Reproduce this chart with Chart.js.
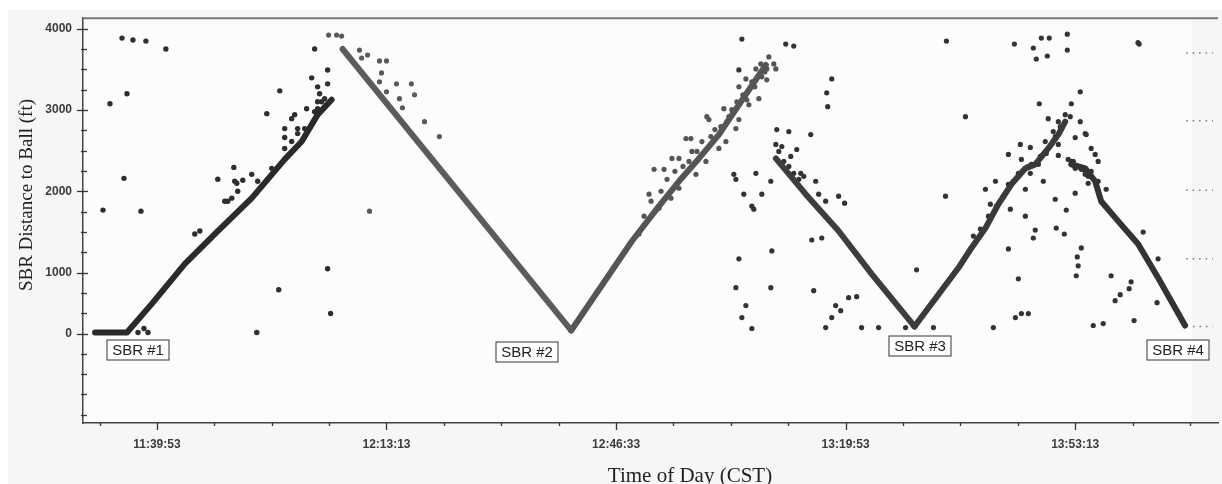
<!DOCTYPE html>
<html><head><meta charset="utf-8">
<script src="https://cdn.jsdelivr.net/npm/chart.js@4.4.1/dist/chart.umd.min.js"></script>
<style>html,body{margin:0;padding:0;background:#fff;overflow:hidden}</style>
</head><body>
<canvas id="c" width="1222" height="484"></canvas>
<script>
// ---------- axis / tick data ----------
const xTickLabels = ['11:39:53','12:13:13','12:46:33','13:19:53','13:53:13'];
const xMinorStep = 500;            // seconds between minor ticks
const yTickValues = [4000,3000,2000,1000,250];
const yTickLabels = ['4000','3000','2000','1000','0'];
const yMinorStep = 250;
const X_MIN = 41349, X_MAX = 51237, Y_MIN = -851, Y_MAX = 4131;
const xTitle = 'Time of Day (CST)';
const yTitle = 'SBR Distance to Ball (ft)';

// ---------- series: [seconds of day, distance ft] ----------
const track1 = [[41454,263],[41732,263],[41950,618],[42236,1108],[42523,1512],[42819,1916],[43106,2393],[43254,2613],[43393,2944],[43515,3127]];
const track2 = [[43610,3752],[45602,288]];
const track3 = [[45602,288],[46132,1389],[46367,1818],[46541,2124],[46715,2405],[46889,2699],[47063,3066],[47298,3556]];
const track4 = [[47385,2405],[47645,1965],[47932,1512],[48219,985],[48593,337]];
const track5 = [[48593,337],[48976,1059],[49089,1304],[49211,1548],[49324,1842],[49437,2087],[49559,2283],[49645,2332],[49758,2528],[49846,2699],[49906,2858]];
const track6 = [[49959,2332],[50080,2283],[50167,2124],[50219,1879],[50367,1634],[50541,1353],[50715,936],[50950,349]];

const dotsA = [[41689,3886],[41784,3862],[41897,3849],[42071,3752],[41732,3201],[41584,3078],[41706,2160],[41523,1769],[41854,1756],[41828,263],[41880,312],[41915,263],[42863,263],[43054,789],[43480,1047],[43506,496],[42950,2956],[43063,3237],[43367,3752],[43480,3494],[43341,3397],[43393,3286],[43410,3201],[43480,3323],[43106,2772],[43167,2895],[43193,2944],[43297,3017],[42663,2295],[42523,2148],[42671,2124],[42741,2136],[42697,2001],[42610,1879],[43106,2662],[43219,2772],[43393,3017],[43428,3103],
  [42323,1475],[42367,1512],[42584,1879],[42645,1916],[42689,2099],[42819,2209],[42871,2124],[42993,2283],[43106,2528],[43167,2613],[43219,2711],[43280,2772],[43367,2980],[43393,3103],[43454,3140]];
const dotsB = [[43489,3923],[43558,3923],[43602,3911],[43758,3739],[43828,3678],[43776,3641],[43932,3605],[43993,3605],[43950,3458],[43932,3348],[44080,3323],[44210,3323],[44237,3189],[43993,3225],[44106,3140],[44132,3029],[44324,2858],[44454,2674],[43845,1756]];
const dotsC = [[46280,1965],[46324,2271],[46411,2271],[46480,2405],[46541,2405],[46602,2650],[46645,2650],[46654,2491],[46784,2919],[46802,2883],[46932,3017],[46976,2919],[47063,2883],[47132,3127],[47150,3066],[47237,3140],[47063,3286],[47124,3384],[47176,3348],[47211,3507],[47306,3507],[47254,3568],[47324,3654],[47367,3568],[47385,3507],[47306,3372],[46193,1475],[46367,1793],[46471,1916],[46541,2038],[46689,2209],[46776,2368],[46889,2528],[46950,2613],[47037,2772],
  [46237,1695],[46298,1879],[46385,2001],[46437,2148],[46506,2246],[46576,2307],[46628,2368],[46698,2491],[46741,2613],[46819,2674],[46854,2760],[46906,2797],[46958,2858],[47002,3005],[47045,3103],[47098,3189],[47150,3250],[47202,3286],[47263,3409],[47289,3470]];
const dotsD = [[47089,3874],[47063,3494],[47019,2209],[47037,2148],[47106,1965],[47211,2222],[47263,1965],[47193,1781],[47176,1818],[47341,2124],[47063,1169],[47037,814],[47350,1267],[47341,814],[47124,594],[47089,447],[47176,312],[47471,3813],[47541,3788],[48871,3849],[47872,3384],[47828,3213],[47837,3042],[49037,2919],[47393,2760],[47498,2736],[47689,2699],[47385,2577],[47567,2515],[47732,2124],[47602,2222],[47628,2185],[47758,1965],[47819,1879],[47932,1940],[47984,1854],[48863,1940],[47698,1401],[47785,1426],[47715,777],[48019,692],[48089,704],[47906,594],[47950,532],[47872,447],[47819,324],[48132,324],[48280,324],[48515,324],[48758,324],[48611,1034],[49280,324],[49472,447],[49524,496],[49585,496],[50150,349],[50237,373],[50506,410],
  [47411,2491],[47454,2368],[47498,2307],[47541,2222],[47585,2148],[47437,2552],[47515,2430]];
const dotsE = [[49463,3813],[49698,3886],[49767,3886],[49924,3935],[49628,3764],[49654,3629],[49750,3666],[49924,3739],[50550,3813],[50540,3830],[50037,3225],[49680,3078],[49959,3078],[49758,2895],[49846,2858],[49906,2944],[49950,2919],[49872,2772],[50037,2858],[50089,2699],[49993,2662],[49846,2577],[49819,2674],[49741,2466],[49846,2442],[49515,2577],[49602,2540],[49411,2454],[49524,2393],[49611,2332],[49672,2332],[49602,2222],[49715,2124],[49559,2026],[49298,2124],[49211,2026],[49411,2087],[49428,1781],[49254,1842],[49559,1695],[49819,1903],[49915,1769],[49993,1977],[49828,1548],[49898,1475],[49645,1524],[49628,1426],[49411,1291],[50046,1304],[50011,1193],[50019,1083],[50002,961],[49498,924],[50306,961],[50480,887],[50463,802],[50385,728],[50341,655],[50585,1499],[50715,1169],[50706,630],[50080,2711],[50132,2528],[50167,2454],[50193,2368],[50132,2246],[50080,2209],[50193,2124],[50106,2099],[50263,2026],[49959,2368],[49993,2283],[50046,2271],[50080,2246],
  [49106,1450],[49167,1536],[49237,1695],[49306,1818],[49367,1940],[49454,2124],[49498,2222],[49585,2307],[49689,2430],[49732,2613],[49802,2736],[49863,2797],
  [49976,2368],[50019,2307],[50063,2271],[50106,2185],[49932,2393]];

// dotted markers at right edge
const markerValues = [3703,2870,2013,1169,337];
const markerStarts = [50959,50959,50959,50959,51019];
const markerEnd = 51193;

// SBR labels
const sbrLabels = ['SBR #1','SBR #2','SBR #3','SBR #4'];
const sbrTimes = [41828,45219,48645,50889];
const sbrValues = [43,18,98,43];

// ---------- build ----------
const hms = s => { const [h,m,x] = s.split(':').map(Number); return h*3600+m*60+x; };
const xMajor = xTickLabels.map(hms);
const xTickValues = [];
{ let v = xMajor[0]; while (v - xMinorStep >= X_MIN) v -= xMinorStep; for (; v <= X_MAX; v += xMinorStep) xTickValues.push(v); }
const yTicksAll = [];
for (let v = yTickValues[0]; v >= Y_MIN; v -= yMinorStep) yTicksAll.push(v);

const toXY = arr => arr.map(([x,y]) => ({x,y}));
const lineDs = (arr,color,w) => ({data:toXY(arr), showLine:true, borderColor:color, borderWidth:w, pointRadius:0, borderCapStyle:'round', borderJoinStyle:'round', tension:0});
const dotDs = (arr,color,r) => ({data:toXY(arr), showLine:false, pointRadius:r, backgroundColor:color, borderWidth:0});
const markerData = [];
markerValues.forEach((v,i) => { markerData.push({x:markerStarts[i],y:v},{x:markerEnd,y:v},{x:markerEnd+1,y:null}); });

const tickFont = {family:"'Liberation Sans', Arial, sans-serif", size:12, weight:'bold'};

const decor = {
  id:'decor',
  beforeDraw(chart){
    const {ctx, chartArea:a} = chart;
    ctx.save();
    ctx.fillStyle = '#f6f6f6'; ctx.fillRect(0,0,chart.width,chart.height);
    ctx.fillStyle = '#ffffff'; ctx.fillRect(0,0,chart.width,10); ctx.fillRect(0,0,8,chart.height);
    ctx.fillStyle = '#fcfcfc'; ctx.fillRect(a.left,a.top,1192-a.left,a.bottom-a.top);
    ctx.restore();
  },
  afterDraw(chart){
    const {ctx, chartArea:a, scales:{x,y}} = chart;
    ctx.save();
    ctx.strokeStyle = '#777'; ctx.lineWidth = 2;
    ctx.beginPath(); ctx.moveTo(a.left, a.top); ctx.lineTo(a.right, a.top); ctx.stroke();
    ctx.strokeStyle = '#333'; ctx.lineWidth = 1.3;
    x.ticks.forEach(t => {
      const px = Math.round(x.getPixelForValue(t.value)) + 0.5;
      const major = xMajor.some(m => Math.abs(m - t.value) < 1);
      ctx.beginPath(); ctx.moveTo(px, a.bottom); ctx.lineTo(px, a.bottom + (major ? 7 : 3)); ctx.stroke();
    });
    y.ticks.forEach(t => {
      const py = Math.round(y.getPixelForValue(t.value)) + 0.5;
      const major = yTickValues.includes(t.value);
      ctx.beginPath(); ctx.moveTo(a.left - (major ? 6 : 2), py); ctx.lineTo(a.left + (major ? 5 : 4), py); ctx.stroke();
    });
    ctx.font = "15px 'Liberation Sans', Arial, sans-serif";
    ctx.textAlign = 'center'; ctx.textBaseline = 'middle';
    sbrLabels.forEach((s,i) => {
      const cx = Math.round(x.getPixelForValue(sbrTimes[i])), cy = Math.round(y.getPixelForValue(sbrValues[i]));
      const w = 63, h = 21;
      ctx.fillStyle = '#fff'; ctx.fillRect(cx - w/2, cy - h/2, w, h);
      ctx.strokeStyle = '#333'; ctx.lineWidth = 1; ctx.strokeRect(cx - w/2 + 0.5, cy - h/2 + 0.5, w - 1, h - 1);
      ctx.fillStyle = '#222'; ctx.fillText(s, cx, cy + 1);
    });
    ctx.fillStyle = '#222';
    ctx.font = "21px 'Liberation Serif', 'Times New Roman', serif";
    ctx.textAlign = 'center'; ctx.textBaseline = 'alphabetic';
    ctx.fillText(xTitle, 690, 482);
    ctx.save();
    ctx.translate(32, 195); ctx.rotate(-Math.PI/2);
    ctx.font = "19px 'Liberation Serif', 'Times New Roman', serif";
    ctx.fillText(yTitle, 0, 0);
    ctx.restore();
    ctx.restore();
  }
};

new Chart(document.getElementById('c'), {
  type:'scatter',
  data:{datasets:[
    lineDs(track1,'#2a2a2a',6),
    lineDs(track2,'#5c5c5c',6),
    lineDs(track3,'#555555',6),
    lineDs(track4,'#3d3d3d',6),
    lineDs(track5,'#3a3a3a',6),
    lineDs(track6,'#333333',6),
    dotDs(dotsA,'#2e2e2e',2.7),
    dotDs(dotsB,'#5a5a5a',2.6),
    dotDs(dotsC,'#555555',2.6),
    dotDs(dotsD,'#333333',2.6),
    dotDs(dotsE,'#333333',2.6),
    {data:markerData, showLine:true, spanGaps:false, borderColor:'#777', borderWidth:1.5, borderDash:[1.5,5], pointRadius:0}
  ]},
  options:{
    responsive:false, animation:false, devicePixelRatio:1,
    layout:{padding:{top:16,right:2,bottom:0,left:0}},
    plugins:{legend:{display:false}, tooltip:{enabled:false}},
    scales:{
      x:{type:'linear', min:X_MIN, max:X_MAX,
        afterBuildTicks(s){ s.ticks = xTickValues.map(v => ({value:v})); },
        afterFit(s){ s.height = 61; },
        grid:{display:false, drawTicks:false},
        border:{display:true, color:'#444', width:1.5},
        ticks:{autoSkip:false, maxRotation:0, minRotation:0, padding:14, font:tickFont, color:'#3a3a3a',
          callback(v){ const i = xMajor.findIndex(m => Math.abs(m - v) < 1); return i >= 0 ? xTickLabels[i] : ''; }}
      },
      y:{type:'linear', min:Y_MIN, max:Y_MAX,
        afterBuildTicks(s){ s.ticks = yTicksAll.map(v => ({value:v})); },
        afterFit(s){ s.width = 83; },
        grid:{display:false, drawTicks:false},
        border:{display:true, color:'#444', width:1.5},
        ticks:{autoSkip:false, padding:11, font:tickFont, color:'#3a3a3a',
          callback(v){ const i = yTickValues.indexOf(v); return i >= 0 ? yTickLabels[i] : ''; }}
      }
    }
  },
  plugins:[decor]
});
</script>
</body></html>
